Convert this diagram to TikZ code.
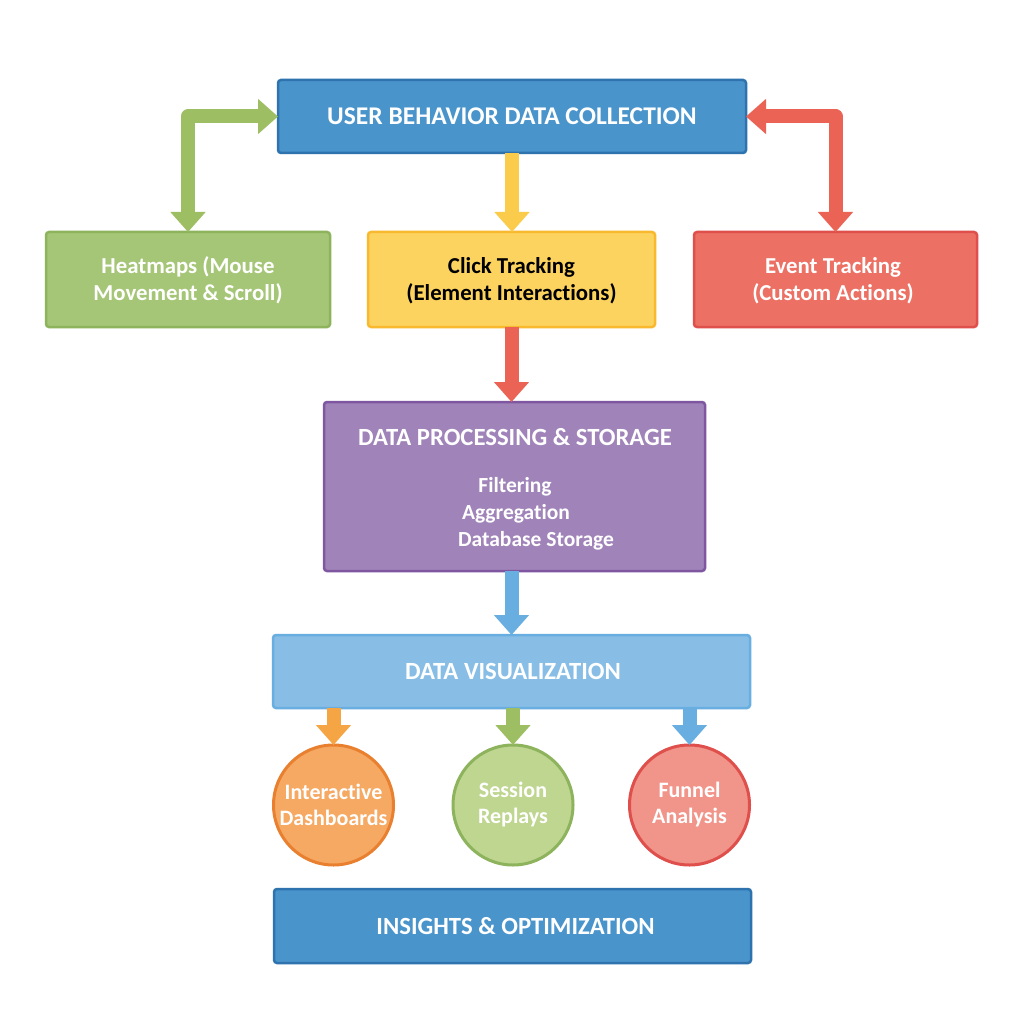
\documentclass[tikz,border=0pt]{standalone}
\usepackage{fontspec}
\setmainfont[Ligatures=NoCommon]{Carlito}
\usetikzlibrary{arrows.meta}
\definecolor{blueF}{HTML}{4A94CC}\definecolor{blueD}{HTML}{2E72AE}
\definecolor{greenF}{HTML}{A6C677}\definecolor{greenD}{HTML}{8DB35D}\definecolor{greenA}{HTML}{9DBE62}
\definecolor{yelF}{HTML}{FCD35F}\definecolor{yelD}{HTML}{F9B92F}\definecolor{yelA}{HTML}{FBCB4C}
\definecolor{redF}{HTML}{EC7063}\definecolor{redD}{HTML}{DF4F4B}\definecolor{redA}{HTML}{EA6355}
\definecolor{purF}{HTML}{A084B9}\definecolor{purD}{HTML}{7E57A0}
\definecolor{skyF}{HTML}{88BEE6}\definecolor{skyD}{HTML}{69AEE0}
\definecolor{oraF}{HTML}{F6A963}\definecolor{oraD}{HTML}{E9802F}\definecolor{oraA}{HTML}{F6A544}
\definecolor{lgrF}{HTML}{BFD690}
\definecolor{pinkF}{HTML}{F1948A}
\tikzset{
  x=1pt,y=-1pt,
  headfont/.style={font=\fontsize{24.7}{27}\selectfont\bfseries},
  boxnode/.style={draw,rectangle,rounded corners=3pt,line width=2.5pt,outer sep=0pt,inner sep=0pt,align=center,text=white,font=\fontsize{22.8}{27}\selectfont\bfseries},
  circnode/.style={draw,circle,line width=3pt,outer sep=0pt,inner sep=0pt,minimum size=120pt,align=center,text=white,font=\fontsize{22}{26}\selectfont\bfseries},
  plain/.style={text=white,inner sep=0pt,font=\fontsize{21.5}{27}\selectfont\bfseries},
  conn/.style={line width=14pt,line join=round,-{Triangle[width=34pt,length=20pt]}},
  conntwo/.style={line width=14pt,line join=round,{Triangle[width=34pt,length=20pt]}-{Triangle[width=34pt,length=20pt]}}
}
\newcommand{\lowr}{\rule{0pt}{19pt}}
\begin{document}
\begin{tikzpicture}
\useasboundingbox (0,0) rectangle (1024,1024);
\fill[white] (0,0) rectangle (1024,1024);
\node[boxnode,headfont,fill=blueF,draw=blueD,minimum width=468pt,minimum height=73pt] (top) at (512,116.5) {\fontsize{25.5}{27}\selectfont USER BEHAVIOR DATA COLLECTION};
\node[boxnode,fill=greenF,draw=greenD,minimum width=284pt,minimum height=95pt] (heat) at (188,279.5) {\lowr Heatmaps (Mouse\\Movement \& Scroll)};
\node[boxnode,fill=yelF,draw=yelD,text=black,minimum width=287pt,minimum height=95pt] (click) at (511.5,279.5) {\lowr Click Tracking\\(Element Interactions)};
\node[boxnode,fill=redF,draw=redD,minimum width=283pt,minimum height=95pt] (event) at (835.5,279.5) {\lowr Event Tracking\hspace*{5pt}\\(Custom Actions)\hspace*{5pt}};
\node[boxnode,fill=purF,draw=purD,minimum width=381pt,minimum height=169pt] (proc) at (514.5,486.5) {};
\node[plain,headfont] (proct) at (515,437) {DATA PROCESSING \& STORAGE};
\node[plain] (p1) at (515,486.5) {Filtering};
\node[plain] (p2) at (516,513.5) {Aggregation};
\node[plain] (p3) at (536,540.5) {Database Storage};
\node[boxnode,headfont,fill=skyF,draw=skyD,minimum width=477pt,minimum height=73pt] (vis) at (511.5,671.5) {\hspace*{3pt}DATA VISUALIZATION};
\node[circnode,fill=oraF,draw=oraD] (dash) at (333.5,805) {Interactive\\Dashboards};
\node[circnode,fill=lgrF,draw=greenD] (sess) at (513,805) {Session\\Replays};
\node[circnode,fill=pinkF,draw=redD] (funn) at (689.5,805) {Funnel\\Analysis};
\node[boxnode,headfont,fill=blueF,draw=blueD,minimum width=477pt,minimum height=74pt] (ins) at (512.5,926) {\hspace*{6pt}INSIGHTS \& OPTIMIZATION};
\draw[conntwo,draw=greenA] (heat.north) |- (top.west);
\draw[conntwo,draw=redA] (event.north) |- (top.east);
\draw[conn,draw=yelA] (top.south) -- (top.south |- click.north);
\draw[conn,draw=redA] (click.south) -- (click.south |- proc.north);
\draw[conn,draw=skyD] (vis.north |- proc.south) -- (vis.north);
\draw[conn,draw=oraA] (dash.north |- vis.south) -- (dash.north);
\draw[conn,draw=greenA] (sess.north |- vis.south) -- (sess.north);
\draw[conn,draw=skyD] (funn.north |- vis.south) -- (funn.north);
\end{tikzpicture}
\end{document}
